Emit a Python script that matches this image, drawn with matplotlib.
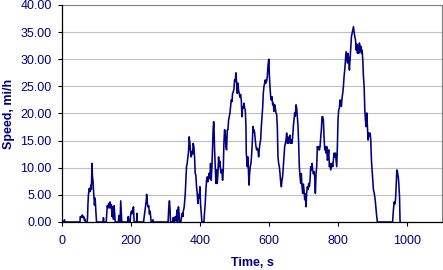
#!/usr/bin/env python3
"""Speed trace chart (Excel style): speed in mi/h vs time in s"""
import matplotlib
matplotlib.use("Agg")
import matplotlib.pyplot as plt
from matplotlib.ticker import FormatStrFormatter

plt.rcParams["font.family"] = ["Liberation Sans", "DejaVu Sans"]

# === Data ===
time_s = [
    0, 6, 7, 8, 52, 53, 55, 57, 59, 61, 63, 65, 67, 68, 73, 74, 75, 76.5, 79, 81,
    84, 85, 87, 88, 90, 92, 94, 96, 98, 100,
    119, 120, 121, 128, 129.5, 131, 133, 135, 137, 139, 141, 143, 145, 147, 149, 151, 153, 154,
    163, 165, 166, 168, 170, 172, 173, 190, 192, 193, 197, 199, 201, 203, 205, 207, 208, 209,
    216, 217, 218, 236, 238, 240, 242, 244, 245, 247, 249, 251, 253, 255, 257, 258,
    262, 263, 264, 307, 309, 311, 313, 314, 320, 322, 323, 326, 328, 329, 331, 333, 334,
    335, 337, 339, 340, 344, 346, 348, 350, 351, 353.7,
    356.6, 358.6, 360.5, 362.4, 364.4, 366.3, 368.2, 370.2, 372, 374, 376, 377.9, 379.8,
    381.8, 383.7, 385.6, 387.5, 389.5, 391.4, 393.4, 395.3, 397.2, 399.2, 401, 403, 405,
    411, 411.7, 414.6, 416.5, 418.5, 420.4, 422.4, 424.3, 426.2, 428.2, 430, 432, 434, 436,
    437.5, 439, 440, 441.7, 443.6, 445.5, 447.5, 449.4, 451.4, 453.3, 455.2, 457.2, 459,
    461, 463, 464.8, 466.8, 468.7, 470.6, 472.5, 474.5, 476.4, 478.4, 480.3, 482.2, 484,
    486, 488, 490, 492, 493.8, 495.7, 497.7, 499.6, 501.5, 503.5, 505.4, 507.4, 509.3,
    511.2, 513.2, 515, 517, 519, 520.9, 522.9, 524.8, 526.7, 528.6, 530.5, 532.5, 533.4,
    534.4, 536.3, 538.3, 540.2, 541.2, 543.1, 545, 547, 549, 550.8, 552.8, 553.7, 555.7,
    557.6, 559.5, 561.5, 563.4, 565.3, 567.3, 569.2, 571, 573, 575, 577, 578.9, 580.8,
    582.7, 584.6, 586.5, 588.5, 590.4, 592.4, 594.3, 596.2, 598.2, 599.1, 600, 602, 604,
    605.9, 607.9, 609.8, 611.7, 613.6, 615.6, 617.5, 619.4, 621.4, 623.3, 625.2, 627.1,
    629.1, 631, 633, 635, 636.8, 638.7, 640.7, 642.6, 644.6, 646.5, 648.4, 650.3, 652.3,
    654.2, 656.1, 658, 660, 662, 663.9, 665.8, 667.7, 669.7, 671.6, 673.5, 675.5, 677.4,
    679.3, 681.3, 683.2, 685.1, 687, 689, 691, 692.8, 694.8, 696.7, 698.6, 700.6, 702.5,
    704.4, 706.4, 708.3, 710.2, 712.2, 714, 716, 718, 720, 721.8, 723.8, 725.7, 727.6,
    729.6, 731.5, 733.4, 735.4, 737.3, 739.2, 741.2, 743.1, 745, 747, 749, 750.8, 752.7,
    754.7, 756.6, 758.5, 760.5, 762.4, 764.3, 766.3, 768.2, 770, 772, 774, 776, 777.9,
    779.8, 781.7, 783.7, 785.6, 787.5, 789.4, 791.4, 793.3, 795.2, 797.2, 799, 801, 803,
    804.9, 806.8, 808.8, 810.7, 812.6, 814.6, 816.5, 818.4, 820.4, 822.3, 824.2, 826.2,
    828, 830, 832, 833.9, 835.8, 836.8, 837.9, 839.8, 841.7, 843.7, 845.6, 847.5, 849.5,
    851.4, 853.3, 855.3, 857.2, 859, 861, 863, 865, 866.8, 868.8, 870.7, 872.6, 874.6,
    876.5, 878.4, 880.3, 882.2, 884.1, 886, 888, 890, 891.9, 893.8, 895.7, 897.6, 899.5,
    901.5, 903.4, 905.3, 907.2, 909.2, 911, 913, 957, 959.3, 961.5, 963.4, 965.4, 967.3,
    969.2, 971, 972, 973.5, 975, 977, 978.5, 979,
]
speed_mph = [
    0, 0, 0.4, 0, 0, 1.0, 0.8, 1.0, 1.3, 0.8, 1.0, 0.3, 0.5, 0, 0, 1.0, 3.1, 5.0, 6.2, 5.6,
    6.8, 6.0, 10.8, 8.5, 7.4, 5.0, 3.1, 4.4, 2.0, 0,
    0, 0.8, 0, 0, 1.5, 3.0, 2.6, 3.4, 2.6, 3.7, 2.6, 3.2, 1.0, 2.8, 0.5, 3.0, 0.8, 0,
    0, 1.2, 0, 0, 3.9, 1.0, 0, 0, 1.0, 0, 0, 1.5, 2.0, 1.5, 2.4, 2.8, 1.0, 0,
    0, 1.6, 0, 0, 1.0, 2.0, 3.1, 4.0, 5.1, 3.5, 2.8, 3.0, 1.5, 2.0, 0.8, 0,
    0, 0.4, 0, 0, 2.5, 3.9, 2.0, 0, 0, 0.8, 0, 0, 1.0, 0.3, 0.5, 2.2, 0,
    0.8, 2.8, 1.5, 0, 0, 1.0, 1.6, 1.0, 1.9, 2.8,
    5.0, 7.7, 10.2, 10.8, 12.0, 13.0, 15.7, 14.5, 13.0, 12.0, 13.0, 12.5, 14.5,
    13.8, 12.0, 9.0, 8.6, 6.5, 5.3, 3.4, 5.0, 4.4, 6.5, 3.4, 1.6, 0,
    0, 1.0, 3.4, 5.9, 7.7, 8.3, 7.4, 8.4, 9.0, 8.0, 10.8, 7.7, 10.3, 14.0,
    17.0, 18.5, 17.5, 13.3, 10.2, 7.1, 9.6, 7.1, 9.0, 12.0, 10.2, 11.2, 9.6,
    9.0, 9.6, 7.7, 9.6, 14.5, 17.0, 16.4, 13.9, 13.3, 17.0, 17.0, 18.8, 19.4,
    20.0, 21.3, 22.5, 22.2, 23.7, 24.0, 24.5, 26.2, 25.9, 27.5, 25.6, 23.7, 25.6,
    24.2, 23.7, 23.0, 23.5, 22.5, 19.4, 21.2, 21.0, 21.9, 21.0, 20.7, 17.6, 12.7,
    12.0, 10.2, 12.0, 8.4, 6.8, 8.9, 10.2, 10.8, 12.5, 14.5, 17.6, 16.5, 17.0,
    16.5, 15.1, 13.9, 13.3, 13.6, 13.3, 12.0, 13.3, 14.5, 15.1, 17.6, 19.4, 21.0,
    23.7, 25.0, 25.6, 26.2, 25.6, 26.0, 26.8, 28.7, 29.9, 30.0, 27.4, 25.0, 23.1,
    22.5, 23.1, 21.6, 21.9, 20.4, 21.6, 21.0, 20.1, 19.8, 17.6, 12.0, 10.8,
    10.2, 9.0, 7.4, 6.5, 7.7, 8.4, 10.2, 12.0, 13.9, 14.5, 15.1, 16.4, 14.5,
    15.7, 14.5, 15.1, 16.0, 14.5, 15.1, 14.5, 15.7, 17.6, 18.8, 20.1, 19.5, 21.6,
    21.0, 19.4, 17.6, 14.5, 10.2, 8.4, 7.1, 8.9, 6.5, 5.3, 7.0, 5.9, 4.1,
    5.2, 2.8, 5.3, 6.5, 6.0, 7.1, 6.5, 7.7, 10.2, 9.6, 10.8, 9.6, 8.9,
    9.3, 8.3, 5.3, 8.9, 10.2, 13.9, 13.3, 13.9, 13.3, 13.9, 15.7, 17.0, 19.4,
    19.4, 18.8, 15.7, 13.3, 13.9, 12.7, 13.9, 11.4, 12.0, 13.3, 10.2, 10.8, 9.6,
    10.2, 10.8, 10.2, 11.4, 12.7, 12.0, 12.7, 11.4, 10.2, 14.0, 18.8, 20.7, 21.0,
    22.5, 22.0, 21.3, 22.9, 23.7, 25.0, 26.8, 28.0, 29.9, 31.4, 30.4, 29.3,
    31.1, 29.9, 28.0, 29.9, 31.7, 33.0, 34.2, 34.8, 35.4, 36.0, 35.0, 34.2, 33.6,
    31.7, 32.8, 31.1, 32.4, 31.1, 33.0, 31.5, 32.4, 31.1, 31.7, 29.9, 26.8, 25.0,
    20.7, 18.8, 17.6, 20.1, 17.6, 15.1, 16.4, 15.8, 16.4, 15.1, 11.4, 9.6, 7.7,
    5.9, 5.5, 4.7, 3.7, 2.2, 1.0, 0, 0, 2.2, 3.7, 3.3, 4.1, 6.5,
    9.6, 9.3, 8.8, 8.3, 7.1, 4.7, 0.4, 0,
]

x_ticks = [0, 200, 400, 600, 800, 1000]
y_ticks = [0, 5, 10, 15, 20, 25, 30, 35, 40]

navy = "#000080"

fig = plt.figure(figsize=(4.43, 2.70), dpi=100)
ax = fig.add_axes([62 / 443, 1 - 222 / 270, 380 / 443, 217 / 270])

ax.plot(time_s, speed_mph, color=navy, linewidth=1.15, zorder=3)

ax.set_xlim(0, 1100)
ax.set_ylim(0, 40)
ax.set_xticks(x_ticks)
ax.set_yticks(y_ticks)
ax.yaxis.set_major_formatter(FormatStrFormatter("%.2f"))

# Excel-like frame and grid
ax.grid(axis="y", color="#c0c0c0", linewidth=0.8, zorder=1)
ax.set_axisbelow(True)
for side in ("top", "right"):
    ax.spines[side].set_color("#808080")
    ax.spines[side].set_linewidth(0.8)
for side in ("left", "bottom"):
    ax.spines[side].set_color("black")
    ax.spines[side].set_linewidth(0.9)
    ax.spines[side].set_zorder(4)

ax.tick_params(axis="both", direction="out", length=3, width=0.8,
               labelsize=9, labelcolor=navy, color="black")
ax.tick_params(axis="y", pad=4.5)
ax.tick_params(axis="x", pad=6.5)

ax.set_ylabel("Speed, mi/h", fontsize=9, fontweight="bold", color=navy, va="center")
ax.yaxis.set_label_coords(-0.14, 0.5)
ax.set_xlabel("Time, s", fontsize=9, fontweight="bold", color=navy, va="center")
ax.xaxis.set_label_coords(0.5, -0.19)

plt.savefig("out.png", dpi=100, facecolor="white")
plt.close()
